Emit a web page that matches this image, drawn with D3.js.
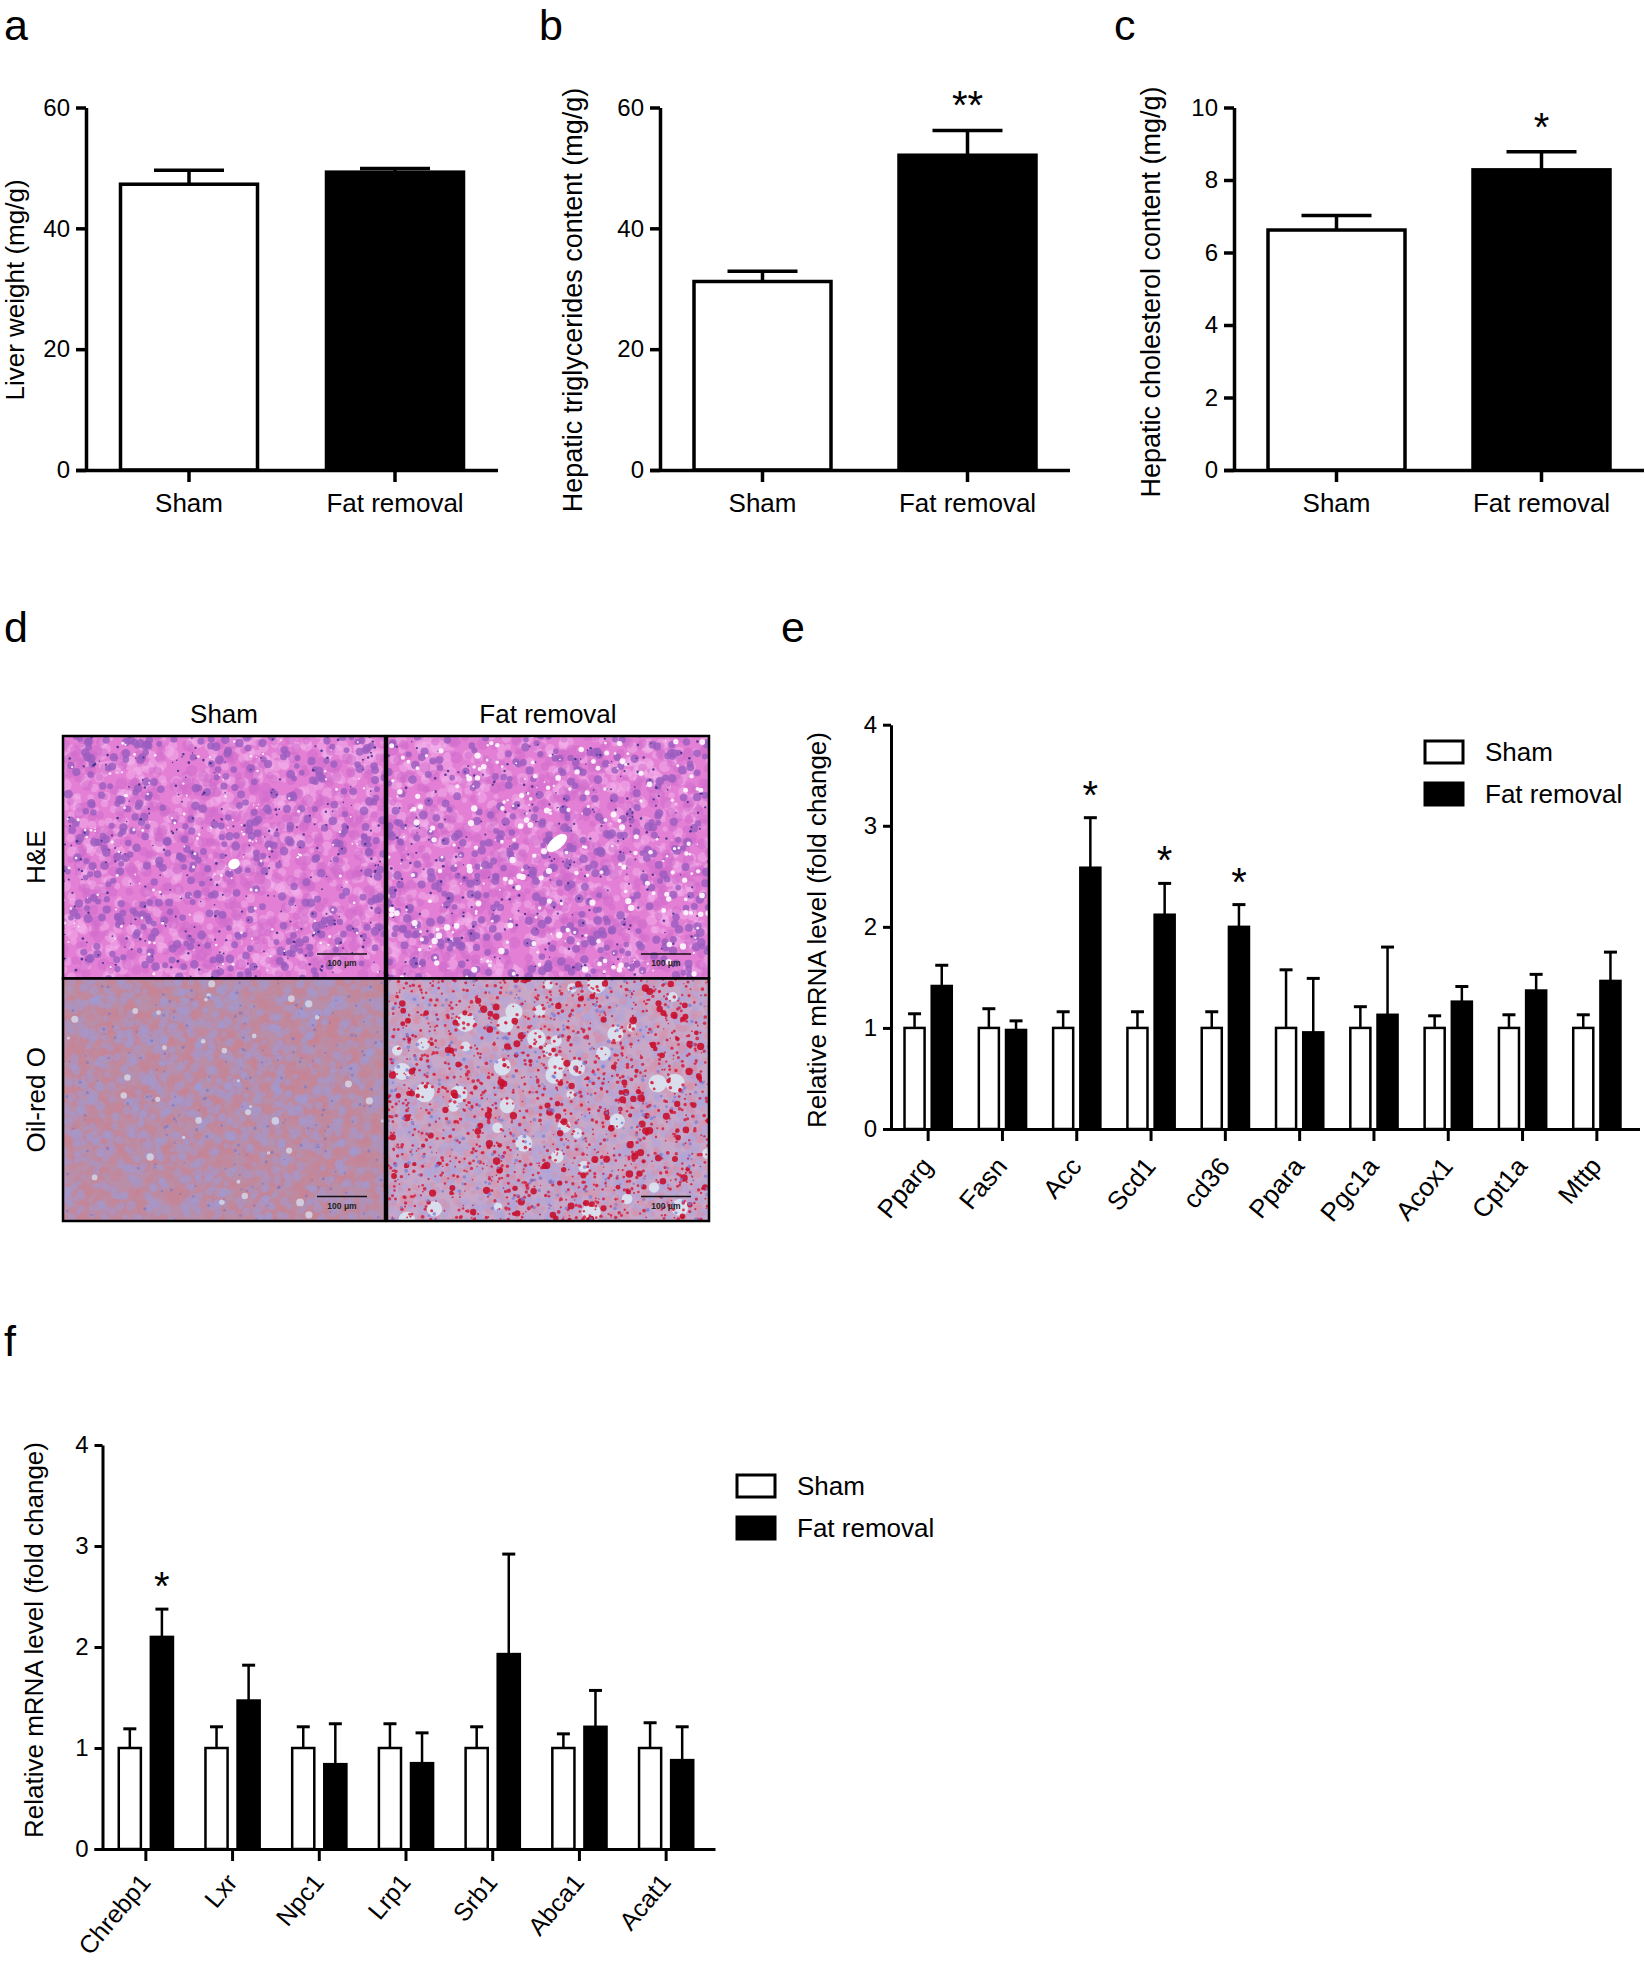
<!DOCTYPE html>
<html>
<head>
<meta charset="utf-8">
<script src="https://cdn.jsdelivr.net/npm/d3@7"></script>
<style>
  body { margin: 0; background: #fff; }
  text { font-family: Arial, "Liberation Sans", Helvetica, sans-serif; fill: #000; }
</style>
</head>
<body>
<svg id="fig" width="1645" height="1963"></svg>
<script>
// ---- data ----
const groups = ["Sham", "Fat removal"];

const liverWeight = [47.3, 49.3];
const liverWeightSem = [2.3, 0.6];
const liverWeightSig = ["", ""];

const hepaticTG = [31.2, 52.1];
const hepaticTGSem = [1.7, 4.1];
const hepaticTGSig = ["", "**"];

const hepaticChol = [6.62, 8.28];
const hepaticCholSem = [0.40, 0.50];
const hepaticCholSig = ["", "*"];

const lipoGenes = ["Pparg", "Fasn", "Acc", "Scd1", "cd36", "Ppara", "Pgc1a", "Acox1", "Cpt1a", "Mttp"];
const lipoSham = [1, 1, 1, 1, 1, 1, 1, 1, 1, 1];
const lipoShamSem = [0.14, 0.19, 0.16, 0.16, 0.16, 0.575, 0.21, 0.12, 0.13, 0.13];
const lipoFat = [1.415, 0.98, 2.585, 2.12, 2.0, 0.956, 1.13, 1.26, 1.37, 1.465];
const lipoFatSem = [0.205, 0.09, 0.495, 0.31, 0.22, 0.534, 0.67, 0.15, 0.16, 0.285];
const lipoSig = ["", "", "*", "*", "*", "", "", "", "", ""];

const cholGenes = ["Chrebp1", "Lxr", "Npc1", "Lrp1", "Srb1", "Abca1", "Acat1"];
const cholSham = [1, 1, 1, 1, 1, 1, 1];
const cholShamSem = [0.19, 0.21, 0.21, 0.24, 0.21, 0.14, 0.25];
const cholFat = [2.10, 1.47, 0.84, 0.85, 1.93, 1.21, 0.88];
const cholFatSem = [0.275, 0.35, 0.40, 0.30, 0.99, 0.36, 0.33];
const cholSig = ["*", "", "", "", "", "", ""];

const stains = ["H&E", "Oil-red O"];

const svg = d3.select("#fig");

// panel letters
const letters = [["a", 4, 40], ["b", 539, 40], ["c", 1114, 40], ["d", 4, 642], ["e", 781, 642], ["f", 4, 1356]];
svg.selectAll("text.letter").data(letters).enter().append("text")
  .attr("class", "letter")
  .attr("x", d => d[1]).attr("y", d => d[2])
  .attr("font-size", 43)
  .text(d => d[0]);

function styleAxis(g, w) {
  g.selectAll("path, line").attr("stroke", "#000").attr("stroke-width", w);
  g.selectAll("text").attr("fill", "#000").style("font-family", "Arial, 'Liberation Sans', sans-serif");
}

// ---- panels a-c: two bars ----
function twoBar(o) {
  const x = d3.scaleBand().domain(groups).range([o.left, o.right]).padding(0);
  const y = d3.scaleLinear().domain([0, o.max]).range([470, 107.5]);
  const g = svg.append("g");
  const bw = 137;

  g.selectAll("rect").data(groups).enter().append("rect")
    .attr("x", d => x(d) + x.bandwidth() / 2 - bw / 2)
    .attr("y", (d, i) => y(o.means[i]))
    .attr("width", bw)
    .attr("height", (d, i) => y(0) - y(o.means[i]))
    .attr("fill", (d, i) => i ? "#000" : "#fff")
    .attr("stroke", "#000").attr("stroke-width", 3.5);

  // error bars (upper only)
  groups.forEach((d, i) => {
    const cx = x(d) + x.bandwidth() / 2;
    g.append("line").attr("x1", cx).attr("x2", cx)
      .attr("y1", y(o.means[i])).attr("y2", y(o.means[i] + o.sems[i]))
      .attr("stroke", "#000").attr("stroke-width", 3.5);
    g.append("line").attr("x1", cx - 35).attr("x2", cx + 35)
      .attr("y1", y(o.means[i] + o.sems[i])).attr("y2", y(o.means[i] + o.sems[i]))
      .attr("stroke", "#000").attr("stroke-width", 3.5);
    if (o.sig[i]) {
      g.append("text").attr("x", cx).attr("y", y(o.means[i] + o.sems[i]) - 34 + 23)
        .attr("text-anchor", "middle").attr("font-size", 40).text(o.sig[i]);
    }
  });

  g.append("g").attr("transform", `translate(${o.left},0)`)
    .call(d3.axisLeft(y).tickValues(o.ticks).tickSize(10).tickPadding(6).tickSizeOuter(0))
    .call(a => a.selectAll("text").attr("font-size", 24))
    .call(a => styleAxis(a, 3.5));

  g.append("g").attr("transform", `translate(0,470)`)
    .call(d3.axisBottom(x).tickSize(12).tickPadding(12).tickSizeOuter(0))
    .call(a => a.selectAll("text").attr("font-size", 26))
    .call(a => styleAxis(a, 3.5))
    .call(a => a.select(".domain").attr("d", `M${o.left - 10},0.5H${o.right}`));

  g.append("text")
    .attr("transform", `translate(${o.titleX},${o.titleY}) rotate(-90)`)
    .attr("text-anchor", "middle").attr("font-size", o.titleSize).text(o.title);
}

twoBar({ left: 86, right: 498, max: 60, ticks: [0, 20, 40, 60], means: liverWeight, sems: liverWeightSem,
  sig: liverWeightSig, title: "Liver weight (mg/g)", titleX: 24, titleY: 290, titleSize: 26 });
twoBar({ left: 660, right: 1070, max: 60, ticks: [0, 20, 40, 60], means: hepaticTG, sems: hepaticTGSem,
  sig: hepaticTGSig, title: "Hepatic triglycerides content (mg/g)", titleX: 582, titleY: 300, titleSize: 27 });
twoBar({ left: 1234, right: 1644, max: 10, ticks: [0, 2, 4, 6, 8, 10], means: hepaticChol, sems: hepaticCholSem,
  sig: hepaticCholSig, title: "Hepatic cholesterol content (mg/g)", titleX: 1160, titleY: 292, titleSize: 27 });

// ---- panel d: histology images (drawn texture) ----
function hash(i, s) {
  const v = Math.sin(i * 12.9898 + s * 78.233) * 43758.5453;
  return v - Math.floor(v);
}

const tiles = [
  { col: 0, row: 0, kind: "he", seed: 1, vein: [234, 864, 6, 5, -30] },
  { col: 1, row: 0, kind: "heFat", seed: 2, vein: [557, 843, 12, 6, -40] },
  { col: 0, row: 1, kind: "oro", seed: 3 },
  { col: 1, row: 1, kind: "oroFat", seed: 4 }
];
const imgX = d3.scaleBand().domain([0, 1]).range([63, 709]).paddingInner(0.006);
const imgY = d3.scaleBand().domain([0, 1]).range([736, 1221]);
const defs = svg.append("defs");

tiles.forEach((t, k) => {
  const x0 = imgX(t.col), y0 = imgY(t.row), w = imgX.bandwidth(), h = imgY.bandwidth();
  defs.append("clipPath").attr("id", "clip" + k).append("rect")
    .attr("x", x0).attr("y", y0).attr("width", w).attr("height", h);
  const g = svg.append("g").attr("clip-path", `url(#clip${k})`);
  const dots = (n, col, rmin, rmax, op, s) => {
    for (let i = 0; i < n; i++) {
      g.append("circle")
        .attr("cx", x0 + hash(i, s) * w)
        .attr("cy", y0 + hash(i, s + 0.37) * h)
        .attr("r", rmin + hash(i, s + 0.71) * (rmax - rmin))
        .attr("fill", col).attr("opacity", op);
    }
  };
  if (t.kind === "he" || t.kind === "heFat") {
    g.append("rect").attr("x", x0).attr("y", y0).attr("width", w).attr("height", h).attr("fill", "#e37fd4");
    dots(700, "#f4b2ec", 2.5, 6, 0.5, t.seed * 10 + 1);
    dots(600, "#cf6ccc", 3, 6, 0.5, t.seed * 10 + 5);
    dots(430, "#9a5cbf", 2.8, 4.5, 0.8, t.seed * 10 + 2);
    dots(260, "#3d2c88", 0.7, 1.4, 0.85, t.seed * 10 + 3);
    dots(t.kind === "heFat" ? 260 : 140, "#fdf2fc", 0.7, t.kind === "heFat" ? 3.2 : 1.6, 0.95, t.seed * 10 + 4);
    g.append("ellipse").attr("cx", t.vein[0]).attr("cy", t.vein[1]).attr("rx", t.vein[2]).attr("ry", t.vein[3])
      .attr("transform", `rotate(${t.vein[4]},${t.vein[0]},${t.vein[1]})`).attr("fill", "#fff");
  } else if (t.kind === "oro") {
    g.append("rect").attr("x", x0).attr("y", y0).attr("width", w).attr("height", h).attr("fill", "#b98ea9");
    dots(1400, "#c78394", 3, 6, 0.5, 31);
    dots(1000, "#a29ad2", 2.5, 5, 0.5, 32);
    dots(35, "#d6dcec", 1.5, 4, 0.8, 33);
    dots(200, "#7b78c8", 0.8, 1.6, 0.7, 34);
  } else {
    g.append("rect").attr("x", x0).attr("y", y0).attr("width", w).attr("height", h).attr("fill", "#c8a8c8");
    dots(1100, "#b0a4d8", 2.5, 5, 0.55, 41);
    dots(900, "#d890a8", 2, 4, 0.5, 46);
    dots(45, "#dbe4f1", 4, 10, 0.9, 42);
    dots(1300, "#d41f3e", 0.7, 1.9, 0.85, 43);
    dots(180, "#c8102e", 2, 3.8, 0.9, 44);
    dots(300, "#7e7ed4", 1, 2, 0.75, 45);
  }
  // scale bar
  svg.append("line").attr("x1", x0 + 254).attr("x2", x0 + 304).attr("y1", y0 + 218).attr("y2", y0 + 218)
    .attr("stroke", "#111").attr("stroke-width", 1.5);
  svg.append("text").attr("x", x0 + 279).attr("y", y0 + 230).attr("text-anchor", "middle")
    .attr("font-size", 8.5).attr("font-weight", "bold").style("fill", "#222").text("100 μm");
  svg.append("rect").attr("x", x0).attr("y", y0).attr("width", w).attr("height", h)
    .attr("fill", "none").attr("stroke", "#000").attr("stroke-width", 2.5);
});

svg.selectAll("text.colhead").data(groups).enter().append("text")
  .attr("class", "colhead")
  .attr("x", (d, i) => imgX(i) + imgX.bandwidth() / 2).attr("y", 723)
  .attr("text-anchor", "middle").attr("font-size", 26).text(d => d);

svg.selectAll("text.rowhead").data(stains).enter().append("text")
  .attr("class", "rowhead")
  .attr("transform", (d, i) => `translate(45,${imgY(i) + imgY.bandwidth() / 2}) rotate(-90)`)
  .attr("text-anchor", "middle").attr("font-size", 26).text(d => d);

// ---- panels e, f: grouped bars ----
function groupedBar(o) {
  const x = d3.scaleBand().domain(o.genes).range([o.left, o.right]).padding(0);
  const y = d3.scaleLinear().domain([0, 4]).range([o.bottom, o.top]);
  const g = svg.append("g");
  const step = x.step();
  const bw = o.barFrac * step, off = o.offFrac * step;
  const series = [
    { vals: o.sham, sems: o.shamSem, fill: "#fff", dx: -off },
    { vals: o.fat, sems: o.fatSem, fill: "#000", dx: off }
  ];
  series.forEach(s => {
    g.append("g").selectAll("rect").data(o.genes).enter().append("rect")
      .attr("x", d => x(d) + step / 2 + s.dx - bw / 2)
      .attr("y", (d, i) => y(s.vals[i]))
      .attr("width", bw)
      .attr("height", (d, i) => y(0) - y(s.vals[i]))
      .attr("fill", s.fill).attr("stroke", "#000").attr("stroke-width", 2.5);
    o.genes.forEach((d, i) => {
      const cx = x(d) + step / 2 + s.dx;
      const top = y(s.vals[i] + s.sems[i]);
      g.append("line").attr("x1", cx).attr("x2", cx).attr("y1", y(s.vals[i])).attr("y2", top)
        .attr("stroke", "#000").attr("stroke-width", 2.5);
      g.append("line").attr("x1", cx - 6.5).attr("x2", cx + 6.5).attr("y1", top).attr("y2", top)
        .attr("stroke", "#000").attr("stroke-width", 3);
    });
  });
  o.genes.forEach((d, i) => {
    if (!o.sig[i]) return;
    const cx = x(d) + step / 2 + off;
    g.append("text").attr("x", cx).attr("y", y(o.fat[i] + o.fatSem[i]) - 32 + 23)
      .attr("text-anchor", "middle").attr("font-size", 40).text(o.sig[i]);
  });

  g.append("g").attr("transform", `translate(${o.left},0)`)
    .call(d3.axisLeft(y).ticks(4).tickSize(8).tickPadding(6).tickSizeOuter(0))
    .call(a => a.selectAll("text").attr("font-size", 24))
    .call(a => styleAxis(a, 3));

  const xa = g.append("g").attr("transform", `translate(0,${o.bottom})`)
    .call(d3.axisBottom(x).tickSize(12).tickSizeOuter(0))
    .call(a => styleAxis(a, 3))
    .call(a => a.select(".domain").attr("d", `M${o.left - 8},0.5H${o.right + 6}`));
  xa.selectAll(".tick text")
    .attr("font-size", o.labelSize)
    .attr("text-anchor", "end")
    .attr("y", 0).attr("dy", 0)
    .attr("transform", `translate(6,${o.labelDy}) rotate(-50)`);

  g.append("text")
    .attr("transform", `translate(${o.titleX},${o.titleY}) rotate(-90)`)
    .attr("text-anchor", "middle").attr("font-size", 26).text("Relative mRNA level (fold change)");

  // legend
  const lg = g.append("g");
  groups.forEach((name, i) => {
    lg.append("rect").attr("x", o.legX).attr("y", o.legY + i * 42).attr("width", 38).attr("height", 22)
      .attr("fill", i ? "#000" : "#fff").attr("stroke", "#000").attr("stroke-width", 3);
    lg.append("text").attr("x", o.legX + 60).attr("y", o.legY + i * 42 + 11).attr("dy", "0.36em")
      .attr("font-size", 26).text(name);
  });
}

groupedBar({ genes: lipoGenes, sham: lipoSham, shamSem: lipoShamSem, fat: lipoFat, fatSem: lipoFatSem, sig: lipoSig,
  left: 891, right: 1634, top: 724.7, bottom: 1129, barFrac: 0.27, offFrac: 0.183,
  titleX: 826, titleY: 930, legX: 1425, legY: 741, labelSize: 26, labelDy: 38 });
groupedBar({ genes: cholGenes, sham: cholSham, shamSem: cholShamSem, fat: cholFat, fatSem: cholFatSem, sig: cholSig,
  left: 102.5, right: 709.5, top: 1445, bottom: 1849, barFrac: 0.255, offFrac: 0.185,
  titleX: 43, titleY: 1640, legX: 737, legY: 1475, labelSize: 25, labelDy: 34 });
</script>
</body>
</html>
